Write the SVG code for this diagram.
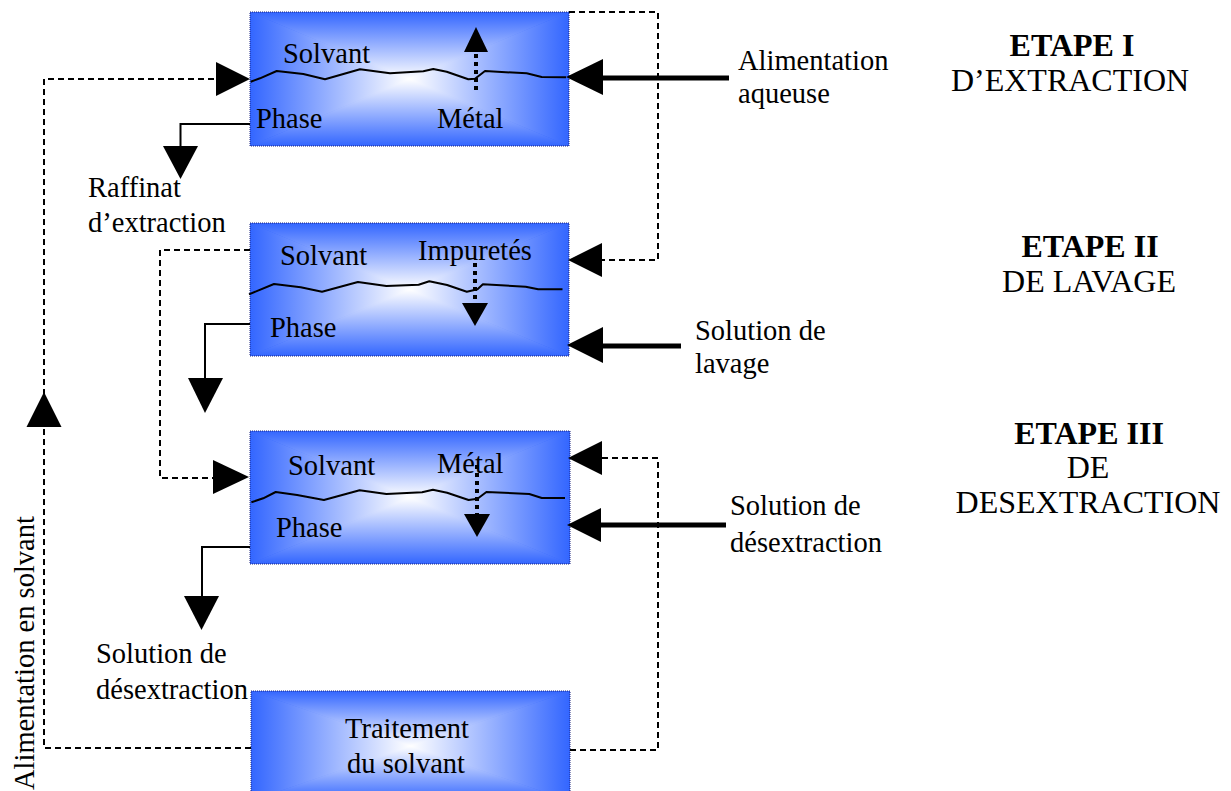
<svg xmlns="http://www.w3.org/2000/svg" xmlns:xlink="http://www.w3.org/1999/xlink" width="1231" height="791" viewBox="0 0 1231 791">
<style>
text{font-family:"Liberation Serif","Times New Roman",serif;fill:#000}
.t{font-size:28.5px}
.h{font-size:32px}
.hb{font-size:32px;font-weight:bold}
.dash{fill:none;stroke:#000;stroke-width:2;stroke-dasharray:6 4}
.thin{fill:none;stroke:#000;stroke-width:2}
.thick{fill:none;stroke:#000;stroke-width:5}
.dot{fill:none;stroke:#000;stroke-width:4;stroke-dasharray:4 4}
.wave{fill:none;stroke:#000;stroke-width:2;stroke-linejoin:round}
.ah{fill:#000}
.border{fill:none;stroke:#1a237e;stroke-width:1;stroke-dasharray:1 1}
</style>
<defs>
<linearGradient id="gT" x1="0" y1="0" x2="0" y2="1"><stop offset="0" stop-color="#3366ff"/><stop offset="1" stop-color="#ffffff"/></linearGradient>
<linearGradient id="gB" x1="0" y1="1" x2="0" y2="0"><stop offset="0" stop-color="#3366ff"/><stop offset="1" stop-color="#ffffff"/></linearGradient>
<linearGradient id="gL" x1="0" y1="0" x2="1" y2="0"><stop offset="0" stop-color="#3366ff"/><stop offset="1" stop-color="#ffffff"/></linearGradient>
<linearGradient id="gR" x1="1" y1="0" x2="0" y2="0"><stop offset="0" stop-color="#3366ff"/><stop offset="1" stop-color="#ffffff"/></linearGradient>
<radialGradient id="gU" cx="0.5" cy="0.5" r="0.6"><stop offset="0" stop-color="#ffffff"/><stop offset="1" stop-color="#3366ff"/></radialGradient>
<symbol id="boxfill" viewBox="0 0 100 100" preserveAspectRatio="none">
<rect x="0" y="0" width="100" height="100" fill="url(#gU)"/>
<path d="M0 0H100L50 50Z" fill="url(#gT)"/>
<path d="M0 100H100L50 50Z" fill="url(#gB)"/>
<path d="M0 0V100L50 50Z" fill="url(#gL)"/>
<path d="M100 0V100L50 50Z" fill="url(#gR)"/>
</symbol>
</defs>

<g id="box1">
<use xlink:href="#boxfill" x="250" y="12" width="319" height="134"/>
<rect class="border" x="250" y="12" width="319" height="134"/>
<polyline class="wave" points="250.7,81.7 260,78.3 276.7,71 303.3,74 325,79.3 360,69.3 390,73.3 423.3,71.3 433.3,69 446.7,71.7 468.3,79.3 475,78.7 485,71 526.7,73.3 541.7,77 566,77.3"/>
<line class="dot" x1="476" y1="90" x2="476" y2="52"/>
<polygon class="ah" points="476,27 464,52 488,52"/>
<text class="t" x="283" y="63">Solvant</text>
<text class="t" x="256" y="128">Phase</text>
<text class="t" x="437" y="128">Métal</text>
</g>

<g id="box2">
<use xlink:href="#boxfill" x="250" y="223" width="319" height="133"/>
<rect class="border" x="250" y="223" width="319" height="133"/>
<polyline class="wave" points="249,294.3 274,284 300.7,287.3 322,291.7 357.9,282 386.4,286 418.6,284.7 429.3,281.3 447.1,285 466.8,291.7 477.5,289.3 482.9,284.3 525.7,286.7 538.2,289.3 562.5,289.3"/>
<line class="dot" x1="475" y1="263" x2="475" y2="303"/>
<polygon class="ah" points="462,303 488,303 475,326"/>
<text class="t" x="280" y="265">Solvant</text>
<text class="t" x="418" y="260">Impuretés</text>
<text class="t" x="270" y="337">Phase</text>
</g>

<g id="box3">
<use xlink:href="#boxfill" x="250" y="431" width="320" height="133"/>
<rect class="border" x="250" y="431" width="320" height="133"/>
<polyline class="wave" points="251.4,502.3 263.2,498.3 275.7,492 297.1,495 323.9,500 359.6,490.3 386.4,494 422.1,492.3 432.9,489.7 447.1,492.7 468.6,500 477.5,498.7 486.4,492 529.3,494 541.8,498 565,498"/>
<line class="dot" x1="477" y1="465" x2="477" y2="514"/>
<polygon class="ah" points="464,514 490,514 477,537"/>
<text class="t" x="288" y="475">Solvant</text>
<text class="t" x="437" y="473">Métal</text>
<text class="t" x="276" y="537">Phase</text>
</g>

<g id="box4">
<use xlink:href="#boxfill" x="251" y="691" width="319" height="110"/>
<rect class="border" x="251" y="691" width="319" height="110"/>
<text class="t" x="407" y="738" text-anchor="middle">Traitement</text>
<text class="t" x="406" y="773" text-anchor="middle">du solvant</text>
</g>

<g id="connectors">
<!-- solvent loop left -->
<polyline class="dash" points="251,748 44,748 44,79 216,79"/>
<polygon class="ah" points="250,79 216,62 216,96"/>
<polygon class="ah" points="44,392 26.5,427 61.5,427"/>
<!-- top right loop box1 -> box2 -->
<polyline class="dash" points="569,12 658,12 658,260 602,260"/>
<polygon class="ah" points="568,260 602,243 602,277"/>
<!-- box2 -> box3 left -->
<polyline class="dash" points="250,250 160,250 160,478 213,478"/>
<polygon class="ah" points="249,477 213,460 213,494"/>
<!-- box4 -> box3 right -->
<polyline class="dash" points="570,750 658,750 658,458 602,458"/>
<polygon class="ah" points="568,458 602,441 602,475"/>
<!-- feed arrows thick -->
<line class="thick" x1="600" y1="78" x2="729" y2="78"/>
<polygon class="ah" points="566,77 603,59 603,95"/>
<line class="thick" x1="600" y1="346" x2="681" y2="346"/>
<polygon class="ah" points="567,345 603,327 603,363"/>
<line class="thick" x1="598" y1="525" x2="726" y2="525"/>
<polygon class="ah" points="567,525 601,508 601,542"/>
<!-- phase outflows -->
<polyline class="thin" points="250,124 180.5,124 180.5,150"/>
<polygon class="ah" points="163,146 198,146 180.5,179"/>
<polyline class="thin" points="250,324 205,324 205,380"/>
<polygon class="ah" points="188,378 223,378 205,413"/>
<polyline class="thin" points="250,547 202,547 202,598"/>
<polygon class="ah" points="184,596 219,596 201.5,630"/>
</g>

<g id="labels">
<text class="t" x="88" y="197">Raffinat</text>
<text class="t" x="88" y="232">d’extraction</text>
<text class="t" x="738" y="70">Alimentation</text>
<text class="t" x="738" y="103">aqueuse</text>
<text class="t" x="695" y="340">Solution de</text>
<text class="t" x="695" y="373">lavage</text>
<text class="t" x="730" y="515">Solution de</text>
<text class="t" x="730" y="552">désextraction</text>
<text class="t" x="96" y="663">Solution de</text>
<text class="t" x="96" y="699">désextraction</text>
<text class="t" transform="translate(34,790) rotate(-90)">Alimentation en solvant</text>
<text class="hb" x="1072" y="56" text-anchor="middle">ETAPE I</text>
<text class="h" x="1070" y="91" text-anchor="middle">D’EXTRACTION</text>
<text class="hb" x="1090" y="257" text-anchor="middle">ETAPE II</text>
<text class="h" x="1089" y="292" text-anchor="middle">DE LAVAGE</text>
<text class="hb" x="1089" y="444" text-anchor="middle">ETAPE III</text>
<text class="h" x="1088" y="478" text-anchor="middle">DE</text>
<text class="h" x="1088" y="513" text-anchor="middle">DESEXTRACTION</text>
</g>
</svg>
